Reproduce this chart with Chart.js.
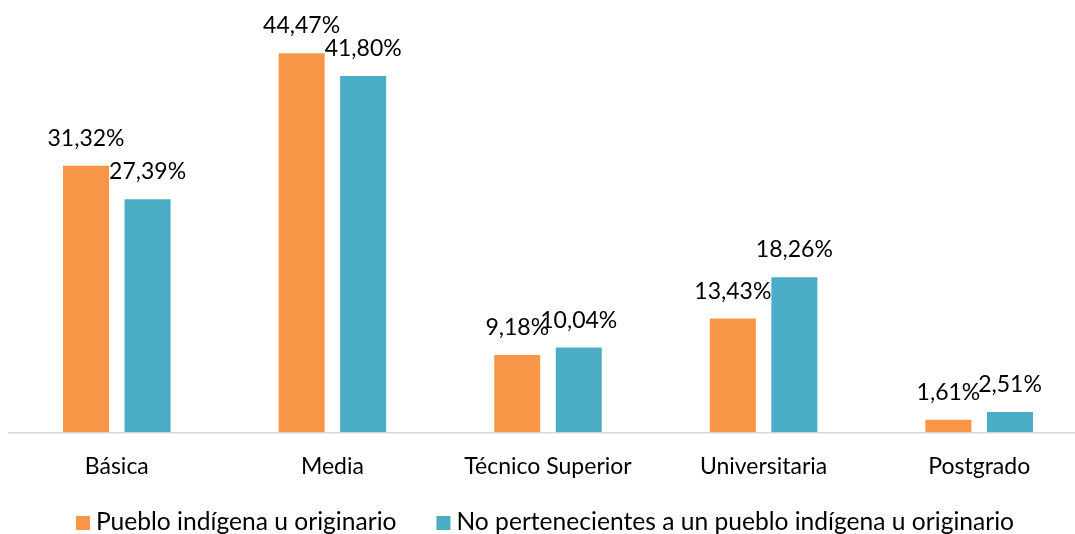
<!DOCTYPE html>
<html>
<head>
<meta charset="utf-8">
<script src="https://cdn.jsdelivr.net/npm/chart.js@4.4.1/dist/chart.umd.min.js"></script>
<style>
  html, body { margin: 0; padding: 0; background: #fff; overflow: hidden; }
  #wrap { width: 1090px; height: 534px; }
</style>
</head>
<body>
<div id="wrap"><canvas id="chart" width="1090" height="534"></canvas></div>
<script>
const categories = ['Básica', 'Media', 'Técnico Superior', 'Universitaria', 'Postgrado'];
const seriesNames = ['Pueblo indígena u originario', 'No pertenecientes a un pueblo indígena u originario'];
const indigena = [31.32, 44.47, 9.18, 13.43, 1.61];
const noIndigena = [27.39, 41.80, 10.04, 18.26, 2.51];
const colors = ['#F79646', '#4BACC6'];

const fontFamily = 'Lato, "Open Sans", sans-serif';

// etiquetas de valor encima de cada barra
const valueLabels = {
  id: 'valueLabels',
  afterDatasetsDraw(chart) {
    const ctx = chart.ctx;
    ctx.save();
    ctx.font = '23px ' + fontFamily;
    ctx.fillStyle = '#000';
    ctx.textAlign = 'center';
    ctx.textBaseline = 'alphabetic';
    chart.data.datasets.forEach((ds, i) => {
      chart.getDatasetMeta(i).data.forEach((bar, j) => {
        const txt = ds.data[j].toFixed(2).replace('.', ',') + '%';
        ctx.fillText(txt, bar.x, bar.y - 19);
      });
    });
    ctx.restore();
  }
};

// leyenda abajo, estilo Excel (cuadro pegado al texto)
const bottomLegend = {
  id: 'bottomLegend',
  afterDraw(chart) {
    const ctx = chart.ctx;
    const box = 14, gap = 6, spacing = 40;
    const baseline = 530;
    ctx.save();
    ctx.font = '24.6px ' + fontFamily;
    ctx.textBaseline = 'alphabetic';
    ctx.textAlign = 'left';
    const items = chart.data.datasets.map(ds => ({
      text: ds.label, color: ds.backgroundColor, w: ctx.measureText(ds.label).width
    }));
    const total = items.reduce((s, it) => s + box + gap + it.w, 0) + spacing * (items.length - 1);
    let x = (chart.width - total) / 2;
    items.forEach(it => {
      ctx.fillStyle = it.color;
      ctx.fillRect(x, baseline - box, box, box);
      ctx.fillStyle = '#000';
      ctx.fillText(it.text, x + box + gap, baseline);
      x += box + gap + it.w + spacing;
    });
    ctx.restore();
  }
};

new Chart(document.getElementById('chart').getContext('2d'), {
  type: 'bar',
  data: {
    labels: categories,
    datasets: [
      { label: seriesNames[0], data: indigena, backgroundColor: colors[0], borderColor: '#fff', borderWidth: 1 },
      { label: seriesNames[1], data: noIndigena, backgroundColor: colors[1], borderColor: '#fff', borderWidth: 1 }
    ]
  },
  options: {
    responsive: false,
    animation: false,
    categoryPercentage: 0.571,
    barPercentage: 0.78,
    layout: { padding: { left: 9, right: 3, top: 5, bottom: 42 } },
    plugins: {
      legend: { display: false },
      tooltip: { enabled: false }
    },
    scales: {
      x: {
        grid: { display: false },
        border: { display: true, color: '#d9d9d9', width: 1.5 },
        ticks: { color: '#000', padding: 12, font: { family: fontFamily, size: 23 } }
      },
      y: {
        display: false,
        min: 0,
        max: 50
      }
    }
  },
  plugins: [valueLabels, bottomLegend]
});
</script>
</body>
</html>
